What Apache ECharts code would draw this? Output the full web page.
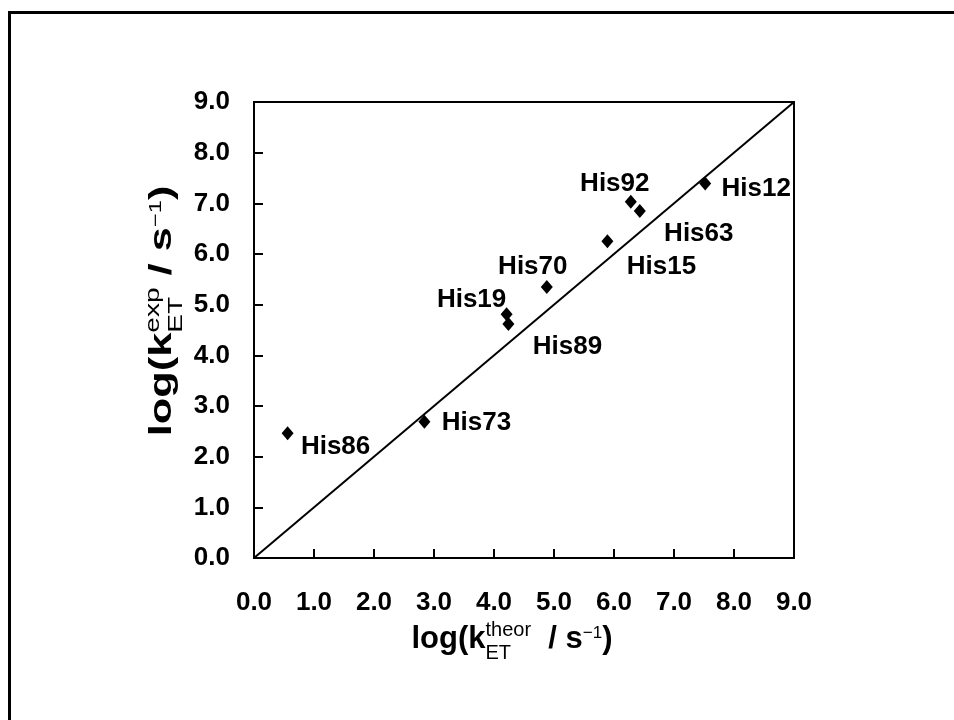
<!DOCTYPE html>
<html>
<head>
<meta charset="utf-8">
<script src="https://cdn.jsdelivr.net/npm/echarts@6/dist/echarts.min.js"></script>
<style>
  html, body { margin: 0; padding: 0; background: #fff; }
  #chart { width: 954px; height: 720px; }
</style>
</head>
<body>
<div id="chart"></div>
<script>
// data
const residues = ["His86", "His73", "His19", "His89", "His70", "His15", "His92", "His63", "His12"];
const logKtheor = [0.56, 2.84, 4.21, 4.24, 4.88, 5.89, 6.28, 6.43, 7.52];
const logKexp = [2.46, 2.69, 4.81, 4.62, 5.35, 6.25, 7.03, 6.85, 7.39];
const diagX = [0, 9];
const diagY = [0, 9];
const tickLabels = ["0.0", "1.0", "2.0", "3.0", "4.0", "5.0", "6.0", "7.0", "8.0", "9.0"];

const FONT = "'Liberation Sans', Arial, sans-serif";

// where each residue label sits relative to its point
const labelOffset = {
  His86: [48, 13],
  His73: [52, 1],
  His19: [-35, -14],
  His89: [59, 23],
  His70: [-14, -20],
  His15: [54, 25],
  His92: [-16, -18],
  His63: [59, 23],
  His12: [51, 5],
};

// lays out a title with super/subscripts, baseline at y = 0
function titleGroup(parts, opts) {
  const ctx = document.createElement("canvas").getContext("2d");
  let x = 0;
  const children = [];
  parts.forEach((p) => {
    const items = p.stack ? p.stack : [p];
    let w = 0;
    items.forEach((it) => {
      const font = `${it.weight || "bold"} ${it.size}px ${FONT}`;
      ctx.font = font;
      w = Math.max(w, ctx.measureText(it.text).width);
      children.push({
        type: "text",
        x: x,
        y: (it.shift || 0) - 0.35 * it.size,
        style: {
          text: it.text,
          font: font,
          fill: "#000",
          align: "left",
          verticalAlign: "middle",
        },
      });
    });
    x += w;
  });
  children.forEach((c) => (c.x -= x / 2));
  return Object.assign({ type: "group", children: children }, opts);
}

const xTitle = [
  { text: "log(k", size: 31 },
  { stack: [
    { text: "theor", size: 20, weight: "normal", shift: -13 },
    { text: "ET", size: 20, weight: "normal", shift: 10 },
  ] },
  { text: "  / s", size: 31 },
  { text: "\u22121", size: 17, weight: "normal", shift: -11 },
  { text: ")", size: 31 },
];

const yTitle = [
  { text: "log(k", size: 31 },
  { stack: [
    { text: "exp", size: 20, weight: "normal", shift: -13 },
    { text: "ET", size: 20, weight: "normal", shift: 10 },
  ] },
  { text: " / s", size: 31 },
  { text: "\u22121", size: 17, weight: "normal", shift: -11 },
  { text: ")", size: 31 },
];

const chart = echarts.init(document.getElementById("chart"));

const axisCommon = {
  type: "value",
  min: 0,
  max: 9,
  interval: 1,
  axisLine: { show: true, lineStyle: { color: "#000", width: 2 } },
  axisTick: { show: true, inside: true, length: 9, lineStyle: { color: "#000", width: 2 } },
  splitLine: { show: false },
  axisLabel: {
    color: "#000",
    fontSize: 26,
    fontWeight: "bold",
    fontFamily: FONT,
    formatter: (v) => tickLabels[Math.round(v)],
  },
};

chart.setOption({
  animation: false,
  backgroundColor: "#fff",
  grid: {
    left: 254,
    top: 102,
    width: 540,
    height: 456,
    show: true,
    borderColor: "#000",
    borderWidth: 2,
    containLabel: false,
  },
  xAxis: Object.assign({}, axisCommon, {
    axisLabel: Object.assign({}, axisCommon.axisLabel, { margin: 32 }),
  }),
  yAxis: Object.assign({}, axisCommon, {
    axisLabel: Object.assign({}, axisCommon.axisLabel, { margin: 24 }),
  }),
  graphic: [
    {
      type: "rect",
      left: 7,
      top: 10,
      shape: { width: 980, height: 740 },
      style: { fill: "none", stroke: "#000", lineWidth: 3 },
    },
    titleGroup(xTitle, { x: 512, y: 650 }),
    titleGroup(yTitle, { x: 173, y: 311, rotation: Math.PI / 2, scaleX: 1.4 }),
  ],
  series: [
    {
      type: "line",
      data: diagX.map((x, i) => [x, diagY[i]]),
      symbol: "none",
      lineStyle: { color: "#000", width: 2 },
      z: 1,
    },
    {
      type: "scatter",
      symbol: "diamond",
      symbolSize: [12, 14],
      itemStyle: { color: "#000", opacity: 1 },
      z: 2,
      label: {
        show: true,
        position: "inside",
        formatter: "{b}",
        color: "#000",
        opacity: 1,
        fontSize: 26,
        fontWeight: "bold",
        fontFamily: FONT,
        align: "center",
        verticalAlign: "middle",
      },
      data: residues.map((name, i) => ({
        name: name,
        value: [logKtheor[i], logKexp[i]],
        label: { offset: labelOffset[name] },
      })),
    },
  ],
});
</script>
</body>
</html>
